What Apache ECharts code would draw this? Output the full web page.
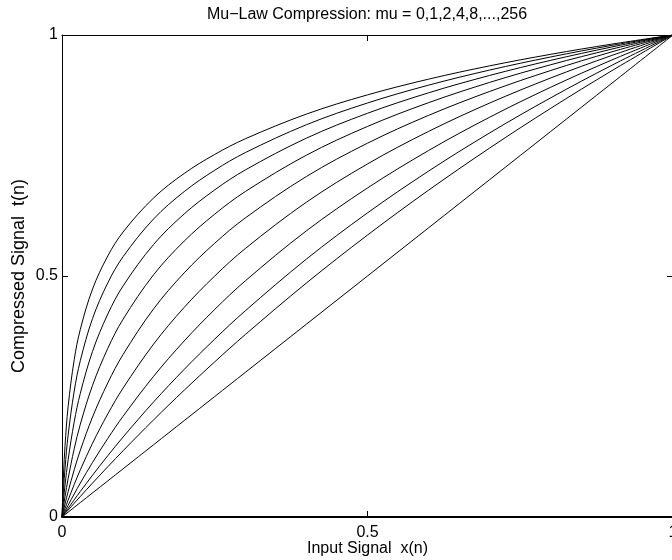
<!DOCTYPE html>
<html>
<head>
<meta charset="utf-8">
<script src="https://cdn.jsdelivr.net/npm/echarts@6/dist/echarts.min.js"></script>
<style>html,body{margin:0;padding:0;background:#fff;}#c{width:672px;height:560px;}</style>
</head>
<body>
<div id="c"></div>
<script>
const titleText = 'Mu\u2212Law Compression: mu = 0,1,2,4,8,...,256';
const xAxisTitle = 'Input Signal  x(n)';
const yAxisTitle = 'Compressed Signal  t(n)';
const tickValues = [0, 0.5, 1];
const muValues = [0, 1, 2, 4, 8, 16, 32, 64, 128, 256];

const xs = [0, 0.0025, 0.005, 0.01, 0.02, 0.03, 0.05, 0.075, 0.1, 0.15, 0.2, 0.25, 0.3, 0.4, 0.5, 0.6, 0.7, 0.8, 0.9, 1];

const mu0   = [0, 0.0025, 0.005, 0.01, 0.02, 0.03, 0.05, 0.075, 0.1, 0.15, 0.2, 0.25, 0.3, 0.4, 0.5, 0.6, 0.7, 0.8, 0.9, 1];
const mu1   = [0, 0.0036, 0.0072, 0.01436, 0.02857, 0.04264, 0.07039, 0.10434, 0.1375, 0.20163, 0.26303, 0.32193, 0.37851, 0.48543, 0.58496, 0.67807, 0.76553, 0.848, 0.926, 1];
const mu2   = [0, 0.00454, 0.00906, 0.01803, 0.0357, 0.05304, 0.08676, 0.12722, 0.16596, 0.23882, 0.30627, 0.36907, 0.42782, 0.53503, 0.63093, 0.71769, 0.79689, 0.86975, 0.9372, 1];
const mu4   = [0, 0.00618, 0.0123, 0.02437, 0.04782, 0.07042, 0.11328, 0.16302, 0.20906, 0.29203, 0.36521, 0.43068, 0.4899, 0.59369, 0.68261, 0.76038, 0.82948, 0.89168, 0.9482, 1];
const mu8   = [0, 0.00901, 0.01785, 0.03503, 0.06755, 0.0979, 0.15313, 0.21391, 0.26751, 0.35884, 0.43487, 0.5, 0.55696, 0.65313, 0.73249, 0.80004, 0.85884, 0.91092, 0.95764, 1];
const mu16  = [0, 0.01384, 0.02716, 0.05239, 0.09799, 0.13837, 0.20746, 0.27829, 0.33725, 0.43194, 0.50652, 0.56806, 0.62045, 0.70643, 0.77552, 0.83328, 0.8829, 0.92639, 0.96511, 1];
const mu32  = [0, 0.02201, 0.04245, 0.0794, 0.14148, 0.19246, 0.27328, 0.35, 0.41043, 0.50275, 0.57242, 0.62841, 0.67521, 0.75066, 0.8103, 0.85963, 0.90168, 0.93834, 0.97083, 1];
const mu64  = [0, 0.03556, 0.06651, 0.11851, 0.19743, 0.25671, 0.34378, 0.42111, 0.47947, 0.56556, 0.62876, 0.67871, 0.72003, 0.78596, 0.83761, 0.88007, 0.91613, 0.94747, 0.97517, 1];
const mu128 = [0, 0.05713, 0.10179, 0.16959, 0.26128, 0.32448, 0.41184, 0.48579, 0.54008, 0.61848, 0.67511, 0.71947, 0.75595, 0.81383, 0.85896, 0.89595, 0.92729, 0.95448, 0.9785, 1];
const mu256 = [0, 0.08915, 0.14853, 0.22882, 0.32646, 0.38944, 0.47299, 0.54166, 0.59125, 0.66205, 0.71275, 0.75227, 0.78466, 0.83593, 0.87579, 0.90841, 0.93602, 0.95996, 0.98109, 1];

const curves = [mu0, mu1, mu2, mu4, mu8, mu16, mu32, mu64, mu128, mu256];

const FONT = 'Liberation Sans, Arial, Helvetica, sans-serif';
const chart = echarts.init(document.getElementById('c'), null, {renderer: 'canvas'});

const labelFmt = v => (v === 0 ? '0' : v === 1 ? '1' : String(v));

const baseAxis = {
  type: 'value', min: 0, max: 1, interval: 0.5,
  splitLine: {show: false},
  axisTick: {show: true, inside: true, length: 6, lineStyle: {color: '#000', width: 1}},
  axisLine: {show: true, onZero: false, lineStyle: {color: '#000', width: 1}}
};

const option = {
  animation: false,
  backgroundColor: '#fff',
  title: {
    text: titleText, left: 367, top: 7, textAlign: 'center', padding: 0,
    textStyle: {fontFamily: FONT, fontSize: 16, fontWeight: 'normal', color: '#000'}
  },
  grid: {left: 62, right: -1, top: 35, bottom: 43, containLabel: false, outerBoundsMode: 'none'},
  xAxis: [
    Object.assign({}, baseAxis, {
      position: 'bottom',
      axisLine: {show: true, onZero: false, lineStyle: {color: '#000', width: 2}},
      axisLabel: {show: true, color: '#000', fontFamily: FONT, fontSize: 16, margin: 8, formatter: labelFmt, customValues: tickValues},
      name: xAxisTitle, nameLocation: 'middle', nameGap: 24, nameMoveOverlap: false,
      nameTextStyle: {fontFamily: FONT, fontSize: 16, color: '#000'}
    }),
    Object.assign({}, baseAxis, {position: 'top', axisLabel: {show: false}})
  ],
  yAxis: [
    Object.assign({}, baseAxis, {
      position: 'left',
      axisLabel: {show: true, color: '#000', fontFamily: FONT, fontSize: 16, margin: 4, formatter: labelFmt},
      name: yAxisTitle, nameLocation: 'middle', nameGap: 34, nameMoveOverlap: false,
      nameTextStyle: {fontFamily: FONT, fontSize: 18, color: '#000'}
    }),
    Object.assign({}, baseAxis, {position: 'right', axisLabel: {show: false}})
  ],
  series: curves.map((ys, i) => ({
    name: 'mu=' + muValues[i],
    type: 'line',
    xAxisIndex: 0, yAxisIndex: 0,
    data: xs.map((x, j) => [x, ys[j]]),
    showSymbol: false, symbol: 'none',
    smooth: 0.35,
    lineStyle: {color: '#000', width: 1},
    silent: true
  }))
};
chart.setOption(option);
</script>
</body>
</html>
